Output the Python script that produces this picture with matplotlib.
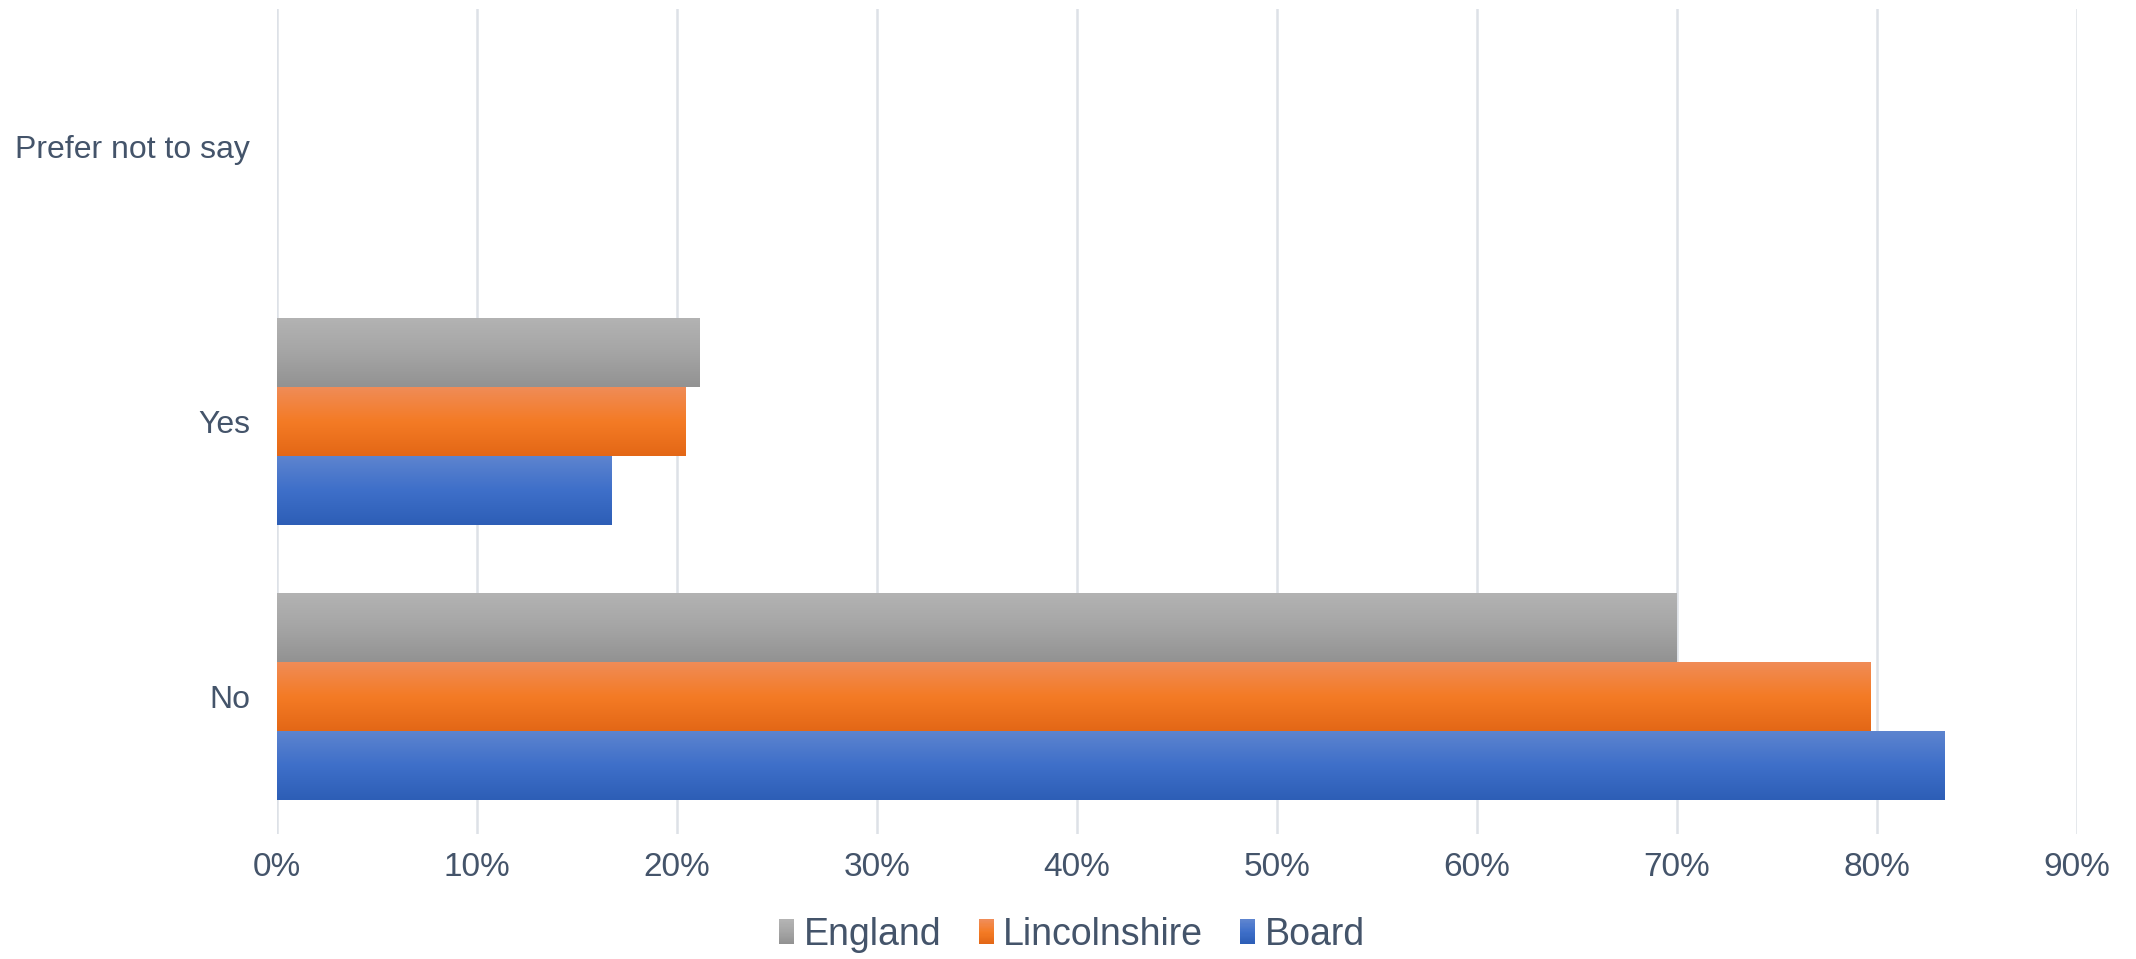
import numpy as np
import matplotlib
matplotlib.use("Agg")
import matplotlib.pyplot as plt
from matplotlib.colors import LinearSegmentedColormap
from matplotlib.patches import Rectangle
from matplotlib.legend_handler import HandlerBase

plt.rcParams['font.family'] = ['Liberation Sans', 'DejaVu Sans']

categories = ["No", "Yes", "Prefer not to say"]
series_names = ["Board", "Lincolnshire", "England"]
board = [83.4, 16.7, 0.0]
lincolnshire = [79.7, 20.4, 0.0]
england = [70.0, 21.1, 0.0]
xticks = [0, 10, 20, 30, 40, 50, 60, 70, 80, 90]

gradients = {
    "England": ["#b3b3b3", "#a5a5a5", "#929292"],
    "Lincolnshire": ["#f08c57", "#f47b25", "#e36716"],
    "Board": ["#5d84cf", "#3e6fc9", "#2d5eb6"],
}
text_color = "#44546a"
grid_color = "#dde1e7"

W, H = 2136, 959
fig = plt.figure(figsize=(W / 100, H / 100), dpi=100)
ax = fig.add_axes([276.7 / W, 1 - 834 / H, (2076.7 - 276.7) / W, (834 - 9) / H])

values = {"Board": board, "Lincolnshire": lincolnshire, "England": england}
y = np.arange(len(categories))
bh = 0.25
offsets = {"Board": -bh, "Lincolnshire": 0.0, "England": bh}

for name in series_names:
    cmap = LinearSegmentedColormap.from_list(name, gradients[name])
    bars = ax.barh(y + offsets[name], values[name], height=bh, color="none",
                   edgecolor="none", zorder=3)
    for p in bars:
        w = p.get_width()
        if w <= 0:
            continue
        y0 = p.get_y()
        grad = np.linspace(0, 1, 256).reshape(-1, 1)
        im = ax.imshow(grad, cmap=cmap, aspect="auto",
                       extent=[0, w, y0, y0 + bh], origin="upper", zorder=3)
        im.set_clip_path(p)

ax.set_xlim(0, 90)
ax.set_ylim(-0.5, 2.5)
ax.set_xticks(xticks)
ax.set_xticklabels([f"{t}%" for t in xticks])
ax.set_yticks(y)
ax.set_yticklabels(categories)
ax.grid(axis="x", color=grid_color, linewidth=1.8, zorder=0)
ax.set_axisbelow(True)
for s in ax.spines.values():
    s.set_visible(False)
ax.tick_params(axis="x", length=0, pad=13, labelsize=24, labelcolor=text_color)
ax.tick_params(axis="y", length=0, pad=19, labelsize=23, labelcolor=text_color)


class GradHandler(HandlerBase):
    def __init__(self, colors):
        super().__init__()
        self.colors = colors

    def create_artists(self, legend, orig_handle, xdescent, ydescent, width,
                       height, fontsize, trans):
        arts = []
        n = 20
        cm = LinearSegmentedColormap.from_list("h", self.colors)
        for i in range(n):
            c = cm(1 - i / (n - 1))
            r = Rectangle((-xdescent, -ydescent + height * i / n), width,
                          height / n + 0.3, facecolor=c, edgecolor="none",
                          transform=trans)
            arts.append(r)
        return arts


leg_order = ["England", "Lincolnshire", "Board"]
handles = [Rectangle((0, 0), 1, 1, label=n) for n in leg_order]
handler_map = {h: GradHandler(gradients[n]) for h, n in zip(handles, leg_order)}
leg = fig.legend(handles=handles, labels=leg_order, handler_map=handler_map,
                 loc="center", bbox_to_anchor=(1072 / W, 1 - 935 / H), ncol=3,
                 frameon=False, fontsize=27, handlelength=0.4, handleheight=0.65,
                 handletextpad=0.25, columnspacing=1.0)
for t in leg.get_texts():
    t.set_color(text_color)

fig.savefig("out.png", dpi=100, facecolor="white")
